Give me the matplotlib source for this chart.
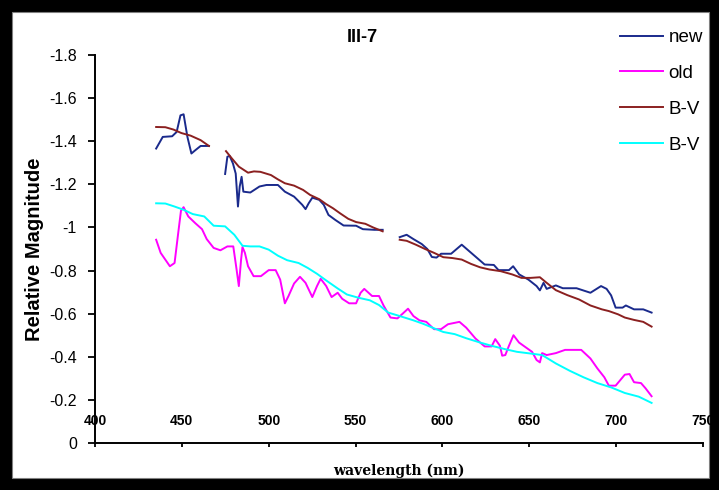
import numpy as np
import matplotlib
matplotlib.use("Agg")
import matplotlib.pyplot as plt
from matplotlib.patches import Rectangle

nan = np.nan

# -------- Data: "new" (three segments, gaps as NaN) --------
new_wl = [435.2, 439, 444.4, 447, 449.2, 451, 453.2, 455.5, 457.7, 460.8, 465.6, nan,
          474.9, 476.2, 477.5, 479.4, 481, 482.3, 483.3, 484.4, 485.4, 489.4, 494.7, 498.7,
          505.3, 509.3, 514.6, 519.3, 521.2, 523, 525.1, 529.1, 531.7, 534.4, 538.3, 543.1,
          550.3, 554.2, 560.8, 565.6, nan,
          575.4, 579.4, 583.3, 588.1, 591.3, 593.9, 596.6, 599.2, 605, 611.1, 617.7, 624.3,
          629.6, 632.3, 638.3, 640.7, 644.2, 649.5, 654.2, 656.1, 658.2, 660, 665.3, 669.3,
          677.2, 685.2, 691.3, 694.5, 697.1, 699.7, 703.7, 705.6, 710.3, 715.6, 720.4]
new_mag = [-1.366, -1.42, -1.423, -1.443, -1.52, -1.525, -1.42, -1.343, -1.358, -1.378, -1.378, nan,
           -1.248, -1.328, -1.332, -1.297, -1.25, -1.097, -1.19, -1.235, -1.166, -1.162, -1.19, -1.197,
           -1.197, -1.166, -1.143, -1.105, -1.085, -1.112, -1.138, -1.128, -1.105, -1.058, -1.035, -1.009,
           -1.008, -0.992, -0.989, -0.989, nan,
           -0.955, -0.966, -0.946, -0.923, -0.9, -0.863, -0.86, -0.878, -0.878, -0.92, -0.874, -0.828,
           -0.826, -0.802, -0.802, -0.82, -0.782, -0.758, -0.728, -0.708, -0.743, -0.715, -0.731, -0.718,
           -0.718, -0.697, -0.728, -0.715, -0.685, -0.628, -0.628, -0.638, -0.62, -0.62, -0.605]

# -------- Data: "old" --------
old_wl = [435.2, 437.8, 443.1, 445.8, 447.9, 449.5, 451, 453.7, 457.7, 461.6, 464.3, 468.3,
          472.2, 476.2, 479.6, 481.5, 482.8, 484.1, 484.9, 486.3, 488.1, 491.3, 495.5, 500,
          504, 506.6, 509.3, 511.4, 514.6, 518, 521.2, 525.1, 527.8, 529.9, 533.1, 536.2,
          539.7, 542.3, 546.3, 550.3, 552.9, 555, 559.5, 563.5, 566.1, 570.1, 574.1, 576.7,
          580.2, 583.3, 586.8, 590.7, 595.2, 599.2, 603.2, 609.8, 613.7, 619, 624.3, 628.3,
          630.4, 633.1, 634.4, 636.2, 638.3, 640.9, 644.1, 648.1, 651.6, 654.2, 656.1, 657.4,
          660, 665.3, 670.6, 679.9, 685.2, 689.2, 693.2, 695.8, 699.7, 705, 707.7, 710.3,
          714.3, 716.9, 720.4]
old_mag = [-0.943, -0.882, -0.82, -0.835, -0.974, -1.078, -1.094, -1.051, -1.02, -0.992, -0.946, -0.905,
           -0.894, -0.912, -0.912, -0.805, -0.728, -0.851, -0.909, -0.882, -0.82, -0.774, -0.774, -0.802,
           -0.802, -0.758, -0.648, -0.682, -0.74, -0.771, -0.743, -0.677, -0.728, -0.762, -0.728, -0.677,
           -0.697, -0.669, -0.648, -0.648, -0.697, -0.715, -0.682, -0.682, -0.638, -0.582, -0.578, -0.597,
           -0.623, -0.589, -0.569, -0.562, -0.528, -0.528, -0.551, -0.562, -0.535, -0.485, -0.448, -0.448,
           -0.482, -0.451, -0.405, -0.408, -0.451, -0.5, -0.466, -0.443, -0.423, -0.385, -0.374, -0.417,
           -0.408, -0.417, -0.432, -0.432, -0.392, -0.346, -0.305, -0.266, -0.266, -0.317, -0.32, -0.282,
           -0.278, -0.254, -0.217]

# -------- Data: B-V (brown, three segments) --------
bv1_wl = [435.2, 440.5, 445.2, 449.7, 455, 460.8, 465.6, nan,
          475.4, 478.8, 482.8, 488.1, 491.5, 495.2, 501.3, 505.3, 509.3, 514.6, 519.8, 523.8,
          529.1, 533.1, 537, 541, 545.8, 550.3, 555.6, 560.1, 565.6, nan,
          575.4, 579.4, 584.7, 590, 595.2, 600.5, 605.8, 611.1, 616.4, 621.7, 627, 633.6,
          640.2, 645.5, 650.8, 656.1, 660, 665.3, 671.9, 678.6, 685.2, 691.8, 695.8, 701.1,
          705, 710.3, 715.6, 720.4]
bv1_mag = [-1.466, -1.465, -1.454, -1.438, -1.426, -1.405, -1.378, nan,
           -1.354, -1.32, -1.282, -1.254, -1.26, -1.258, -1.243, -1.223, -1.205, -1.194, -1.174, -1.151,
           -1.131, -1.108, -1.089, -1.066, -1.04, -1.025, -1.017, -1.0, -0.982, nan,
           -0.943, -0.938, -0.92, -0.9, -0.882, -0.862, -0.858, -0.851, -0.831, -0.815, -0.805, -0.797,
           -0.782, -0.766, -0.766, -0.769, -0.743, -0.709, -0.686, -0.666, -0.638, -0.62, -0.612, -0.597,
           -0.582, -0.571, -0.562, -0.54]

# -------- Data: B-V (cyan) --------
bv2_wl = [435.2, 440.5, 445.8, 451, 456.3, 462.9, 468.3, 474.9, 480.2, 484.9, 489.4, 494.7,
          500, 505.3, 510.6, 517.2, 522.5, 527.8, 533.1, 539.7, 545, 551.6, 558.2, 563.5,
          568.8, 575.4, 583.3, 588.6, 595.2, 600.5, 607.1, 613.7, 621.7, 628.3, 636.2, 642.9,
          650.8, 657.4, 665.3, 673.3, 681.2, 689.2, 697.1, 705, 713, 720.4]
bv2_mag = [-1.112, -1.111, -1.097, -1.082, -1.062, -1.051, -1.008, -1.005, -0.966, -0.915, -0.912, -0.912,
           -0.897, -0.869, -0.848, -0.835, -0.812, -0.785, -0.754, -0.717, -0.689, -0.674, -0.662, -0.64,
           -0.605, -0.589, -0.569, -0.554, -0.532, -0.515, -0.505, -0.486, -0.466, -0.451, -0.435, -0.423,
           -0.415, -0.408, -0.369, -0.335, -0.305, -0.278, -0.258, -0.232, -0.215, -0.186]

x_ticks = [400, 450, 500, 550, 600, 650, 700, 750]
y_ticks = [0, -0.2, -0.4, -0.6, -0.8, -1, -1.2, -1.4, -1.6, -1.8]
y_labels = ['0', '-0.2', '-0.4', '-0.6', '-0.8', '-1', '-1.2', '-1.4', '-1.6', '-1.8']

plt.rcParams['font.family'] = ['Liberation Sans', 'DejaVu Sans']

fig = plt.figure(figsize=(7.19, 4.9), dpi=100)
W, H = 719, 490

# black frame round the chart
fig.add_artist(Rectangle((0, 0), 1, 1, transform=fig.transFigure,
                         facecolor='black', edgecolor='none', zorder=-10))
fig.add_artist(Rectangle((12 / W, 12 / H), (709 - 12) / W, (478 - 12) / H,
                         transform=fig.transFigure, facecolor='white',
                         edgecolor='#808080', linewidth=0.8, zorder=-9))

ax = fig.add_axes([95 / W, 1 - 443 / H, (703 - 95) / W, (443 - 55) / H])
ax.patch.set_alpha(0)

ax.plot(new_wl, new_mag, color='#1a2a8c', lw=1.4, label='new')
ax.plot(old_wl, old_mag, color='#ff00ff', lw=1.4, label='old')
ax.plot(bv1_wl, bv1_mag, color='#8b2020', lw=1.4, label='B-V')
ax.plot(bv2_wl, bv2_mag, color='#00ffff', lw=1.4, label='B-V')

ax.set_xlim(400, 750)
ax.set_ylim(0, -1.8)
ax.set_xticks(x_ticks)
ax.set_yticks(y_ticks)
ax.set_yticklabels(y_labels, fontsize=11.5)
ax.set_xticklabels([str(t) for t in x_ticks], fontsize=10, fontweight='bold')

for s in ['top', 'right']:
    ax.spines[s].set_visible(False)
for s in ['left', 'bottom']:
    ax.spines[s].set_linewidth(1.4)
ax.tick_params(axis='y', direction='out', length=5, width=1.3, pad=8)
ax.tick_params(axis='x', direction='out', length=3, width=1.3, pad=-24)

ax.set_ylabel('Relative Magnitude', fontsize=14.5, fontweight='bold', labelpad=4)
ax.set_xlabel('wavelength (nm)', fontsize=10, fontweight='bold', family='DejaVu Serif', labelpad=12)

fig.text(362 / W, 1 - 38 / H, 'III-7', fontsize=13, fontweight='bold', ha='center', va='center')

fig.legend(loc='upper left', bbox_to_anchor=(620 / W, 1 - 29 / H), frameon=False,
           fontsize=13.5, handlelength=2.3, handletextpad=0.28, labelspacing=1.0,
           borderpad=0, borderaxespad=0)

fig.savefig('out.png', dpi=100)
